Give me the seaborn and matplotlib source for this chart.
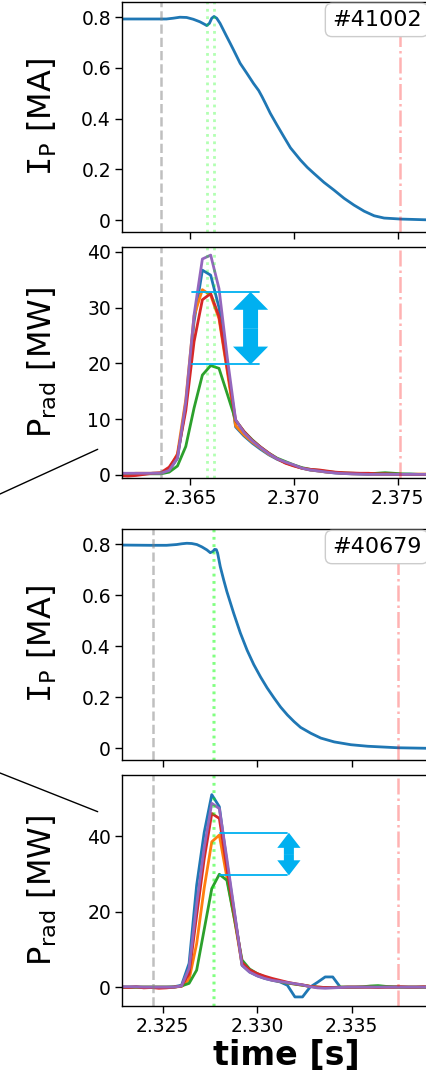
import numpy as np
import pandas as pd
import matplotlib
matplotlib.use('Agg')
import matplotlib.pyplot as plt
import seaborn as sns
from matplotlib.lines import Line2D
from matplotlib.ticker import FormatStrFormatter

# shot 41002 -------------------------------------------------------------
t_ip_41002 = [2.36171, 2.36306, 2.36387, 2.36419, 2.36452, 2.36484, 2.36516, 2.36548,
              2.36573, 2.36581, 2.36594, 2.36605, 2.36616, 2.36629, 2.36645, 2.36661,
              2.36677, 2.36694, 2.36710, 2.36742, 2.36774, 2.36806, 2.36831, 2.36847,
              2.36863, 2.36887, 2.36919, 2.36952, 2.36984, 2.37032, 2.37065, 2.37097,
              2.37145, 2.37194, 2.37242, 2.37290, 2.37339, 2.37387, 2.37435, 2.37516,
              2.37642, 2.37760]
ip_41002 = [0.793, 0.793, 0.793, 0.796, 0.800, 0.799, 0.792, 0.782,
            0.771, 0.767, 0.776, 0.796, 0.803, 0.796, 0.776, 0.750,
            0.724, 0.697, 0.671, 0.618, 0.579, 0.539, 0.511, 0.487,
            0.461, 0.421, 0.375, 0.329, 0.285, 0.237, 0.208, 0.184,
            0.149, 0.118, 0.086, 0.059, 0.035, 0.017, 0.008, 0.004,
            0.001, 0.0]

t_prad_41002 = np.round(2.3616 + 0.0004 * np.arange(41), 4)
prad_41002 = {
    'ch1': [0.2, 0.2, 0.2, 0.2, 0.3, 0.3, 0.8, 3.0, 12.5, 27.5, 36.7, 35.8, 30.0, 19.5, 8.6,
            7.0, 5.7, 4.6, 3.6, 2.8, 2.2, 1.7, 1.2, 0.85, 0.7, 0.5, 0.35, 0.25, 0.2, 0.15,
            0.1, 0.1, 0.1, 0.1, 0.1, 0.15, 0.1, 0.1, 0.15, 0.1, 0.1],
    'ch2': [0.2, 0.2, 0.3, 0.3, 0.3, 0.3, 1.0, 3.8, 13.5, 28.5, 33.2, 32.2, 28.0, 18.5, 8.8,
            7.2, 5.9, 4.8, 3.7, 2.9, 2.2, 1.7, 1.2, 0.9, 0.7, 0.5, 0.4, 0.3, 0.2, 0.2,
            0.15, 0.1, 0.1, 0.1, 0.1, 0.1, 0.15, 0.15, 0.2, 0.2, 0.2],
    'ch3': [0.2, 0.2, 0.2, 0.2, 0.2, 0.2, 0.5, 1.6, 5.1, 12.0, 17.9, 19.6, 19.1, 14.5, 9.8,
            7.8, 6.3, 5.0, 3.9, 3.0, 2.4, 1.8, 1.3, 1.0, 0.8, 0.6, 0.45, 0.35, 0.3, 0.25,
            0.2, 0.3, 0.4, 0.3, 0.2, 0.15, 0.1, 0.1, 0.1, 0.1, 0.1],
    'ch4': [-0.1, -0.2, -0.1, 0.1, 0.3, 0.4, 1.4, 3.6, 11.5, 23.9, 31.4, 32.5, 28.4, 19.0, 9.8,
            7.8, 6.2, 5.0, 3.9, 2.9, 2.1, 1.6, 1.2, 1.0, 0.9, 0.7, 0.5, 0.4, 0.35, 0.3,
            0.3, 0.2, 0.2, 0.15, 0.1, 0.1, 0.1, 0.1, 0.1, 0.1, 0.1],
    'ch5': [0.3, 0.3, 0.3, 0.3, 0.3, 0.3, 0.8, 3.0, 13.0, 28.7, 38.7, 39.4, 33.4, 21.0, 9.9,
            7.6, 6.1, 4.9, 3.8, 2.9, 2.3, 1.8, 1.2, 0.9, 0.7, 0.5, 0.35, 0.25, 0.2, 0.15,
            0.1, 0.1, 0.1, 0.1, 0.1, 0.1, 0.1, 0.1, 0.1, 0.1, 0.1],
}
events_41002 = {'start': [2.36360], 'peak': [2.36580, 2.36616], 'end': [2.37511]}
span_41002 = [19.8, 32.8]          # lower / upper Prad level of the spread
span_t_41002 = [2.36508, 2.36831]  # extent of the two level lines
arrow_t_41002 = 2.36792

# shot 40679 -------------------------------------------------------------
t_ip_40679 = [2.32284, 2.32433, 2.32521, 2.32574, 2.32601, 2.32628, 2.32654, 2.32681,
              2.32707, 2.32734, 2.32752, 2.32766, 2.32775, 2.32784, 2.32791, 2.32805,
              2.32823, 2.32840, 2.32876, 2.32911, 2.32947, 2.32982, 2.33018, 2.33053,
              2.33089, 2.33124, 2.33160, 2.33195, 2.33230, 2.33284, 2.33337, 2.33408,
              2.33496, 2.33585, 2.33745, 2.33901, 2.34030]
ip_40679 = [0.797, 0.796, 0.796, 0.799, 0.802, 0.804, 0.803, 0.799,
            0.790, 0.778, 0.767, 0.772, 0.780, 0.779, 0.765, 0.712,
            0.660, 0.614, 0.529, 0.452, 0.384, 0.328, 0.279, 0.236,
            0.197, 0.161, 0.130, 0.104, 0.081, 0.058, 0.039, 0.024,
            0.013, 0.007, 0.001, -0.001, -0.001]

t_prad_40679 = np.round(2.3228 + 0.0004 * np.arange(45), 4)
prad_40679 = {
    'ch1': [0.0, 0.0, 0.0, 0.0, 0.0, 0.0, 0.0, 0.1, 0.5, 6.3, 27.0, 41.0, 51.0, 47.8, 33.0,
            19.5, 5.8, 4.0, 3.0, 2.3, 1.8, 1.4, 0.5, -2.6, -2.6, 0.0, 1.3, 2.7, 2.7, 0.0,
            0.0, 0.0, 0.0, 0.0, 0.0, 0.0, 0.0, 0.0, 0.0, 0.0, 0.0, 0.0, 0.0, 0.0, 0.0],
    'ch2': [0.0, 0.0, 0.0, 0.0, 0.0, 0.0, 0.0, 0.0, 0.2, 2.0, 11.5, 26.3, 38.5, 40.3, 29.0,
            18.0, 6.0, 4.3, 3.2, 2.5, 1.9, 1.5, 1.1, 0.8, 0.5, 0.2, 0.0, -0.1, -0.1, 0.0,
            0.0, 0.0, 0.0, 0.0, 0.0, 0.0, 0.0, 0.0, 0.0, 0.0, 0.0, 0.0, 0.0, 0.0, 0.0],
    'ch3': [0.0, 0.0, 0.0, 0.0, 0.0, 0.0, 0.0, 0.0, 0.3, 1.0, 4.5, 15.3, 26.1, 29.9, 28.3,
            18.0, 7.2, 4.8, 3.6, 2.7, 2.0, 1.5, 1.1, 0.8, 0.5, 0.2, 0.0, -0.1, -0.1, 0.0,
            0.0, 0.0, 0.1, 0.3, 0.4, 0.2, 0.1, 0.0, 0.0, 0.0, 0.0, 0.0, 0.0, 0.0, 0.0],
    'ch4': [0.0, -0.1, 0.1, -0.2, -0.1, -0.3, -0.2, 0.0, 0.3, 3.5, 19.0, 34.0, 46.0, 44.7, 31.5,
            19.0, 6.5, 4.6, 3.6, 2.9, 2.3, 1.8, 1.3, 0.9, 0.6, 0.2, 0.0, -0.1, -0.1, -0.1,
            0.0, 0.0, 0.0, 0.0, -0.1, 0.0, 0.0, 0.1, 0.0, 0.0, 0.1, 0.0, 0.0, 0.1, 0.0],
    'ch5': [0.1, 0.1, 0.1, 0.0, 0.0, 0.0, 0.0, 0.0, 0.3, 5.0, 22.0, 37.0, 48.7, 47.3, 34.0,
            20.0, 5.8, 4.0, 3.0, 2.3, 1.8, 1.5, 1.2, 0.9, 0.6, 0.1, -0.2, -0.3, -0.2, -0.1,
            0.0, 0.0, 0.0, 0.0, 0.0, 0.0, 0.0, 0.0, 0.0, 0.0, 0.0, 0.0, 0.0, 0.0, 0.0],
}
events_40679 = {'start': [2.32447], 'peak': [2.32766, 2.32772], 'end': [2.33745]}
span_40679 = [29.6, 40.9]
span_t_40679 = [2.32803, 2.33159]
arrow_t_40679 = 2.33168

sns.set_style('ticks')
plt.rcParams['font.family'] = ['DejaVu Sans']
plt.rcParams['axes.edgecolor'] = 'black'
plt.rcParams['axes.linewidth'] = 1.0
for key in ('text.color', 'axes.labelcolor', 'xtick.color', 'ytick.color'):
    plt.rcParams[key] = 'black'

W, H = 426, 1082
fig = plt.figure(figsize=(W / 100, H / 100), dpi=100)
XR = 450  # right edge of the axes (outside the visible picture)


def make_ax(top, bottom):
    return fig.add_axes([122 / W, 1 - bottom / H, (XR - 122) / W, (bottom - top) / H])


ax1 = make_ax(2, 232)
ax2 = make_ax(247, 478)
ax3 = make_ax(529, 760)
ax4 = make_ax(775, 1006)

blue = '#00b0f0'


def mark_events(ax, ev):
    for x in ev['start']:
        ax.axvline(x, color='gray', alpha=0.5, ls='--', lw=1.8)
    for x in ev['peak']:
        ax.axvline(x, color='lime', alpha=0.3, ls=':', lw=2)
    for x in ev['end']:
        ax.axvline(x, color='red', alpha=0.3, ls='-.', lw=1.8)


def ip_panel(ax, t, ip, shot, xlim, xticks, ev):
    sns.lineplot(x=t, y=ip, ax=ax, color='#1f77b4', lw=2, estimator=None, sort=False)
    mark_events(ax, ev)
    ax.set_xlim(xlim)
    ax.set_ylim(-0.047, 0.86)
    ax.set_xticks(xticks)
    ax.set_xticklabels([])
    ax.set_yticks([0, 0.2, 0.4, 0.6, 0.8])
    ax.yaxis.set_major_formatter(FormatStrFormatter('%g'))
    ax.set_ylabel(r'$\mathtt{I}_\mathrm{P}$ [MA]', fontsize=23)
    ax.text((332 - 122) / (XR - 122), 0.922, shot, transform=ax.transAxes, fontsize=16,
            ha='left', va='center',
            bbox=dict(boxstyle='round,pad=0.3', fc='white', ec='0.8', lw=1))


def prad_panel(ax, t, prad, xlim, xticks, ylim, yticks, ev, span, span_t, arrow_t, aw):
    df = pd.DataFrame(prad, index=t).rename_axis('t').reset_index()
    df = df.melt(id_vars='t', var_name='channel', value_name='P')
    sns.lineplot(data=df, x='t', y='P', hue='channel', palette=sns.color_palette('tab10', 5),
                 lw=2, legend=False, estimator=None, sort=False, ax=ax)
    mark_events(ax, ev)
    for lev in span:
        ax.plot(span_t, [lev, lev], color=blue, lw=1.3)
    mid = (span[0] + span[1]) / 2
    half = (span[1] - span[0]) / 2
    for sgn in (1, -1):
        ax.arrow(arrow_t, mid, 0, sgn * half, width=aw[0], head_width=aw[1], head_length=aw[2],
                 length_includes_head=True, color=blue, lw=0)
    ax.set_xlim(xlim)
    ax.set_ylim(ylim)
    ax.set_xticks(xticks)
    ax.xaxis.set_major_formatter(FormatStrFormatter('%.3f'))
    ax.set_yticks(yticks)
    ax.set_ylabel(r'$\mathrm{P}_\mathrm{rad}$ [MW]', fontsize=23)
    ax.set_xlabel('')


xlim_a = (2.36173, 2.36173 + (XR - 122) / 20770)
xlim_b = (2.32285, 2.32285 + (XR - 122) / 18900)

ip_panel(ax1, t_ip_41002, ip_41002, '#41002', xlim_a, [2.365, 2.370, 2.375], events_41002)
prad_panel(ax2, t_prad_41002, prad_41002, xlim_a, [2.365, 2.370, 2.375], (-0.55, 40.85),
           [0, 10, 20, 30, 40], events_41002, span_41002, span_t_41002, arrow_t_41002,
           (0.00072, 0.00169, 3.2))
ip_panel(ax3, t_ip_40679, ip_40679, '#40679', xlim_b, [2.325, 2.330, 2.335], events_40679)
prad_panel(ax4, t_prad_40679, prad_40679, xlim_b, [2.325, 2.330, 2.335], (-5.0, 56.2),
           [0, 20, 40], events_40679, span_40679, span_t_40679, arrow_t_40679,
           (0.00053, 0.00123, 4.0))

ax4.set_xlabel('time [s]', fontsize=24, fontweight='bold', labelpad=2)

for ax in (ax1, ax2, ax3, ax4):
    ax.tick_params(labelsize=13.5, length=5, width=1, pad=3, color='black')
    ax.yaxis.set_label_coords((59 - 122) / (XR - 122), 0.5)
    sns.despine(ax=ax, top=False, right=False)

# zoom connector lines coming from the (cropped) overview panel
fig.add_artist(Line2D([0, 97.7 / W], [1 - 494 / H, 1 - 449.3 / H], transform=fig.transFigure,
                      color='black', lw=1))
fig.add_artist(Line2D([0, 97.7 / W], [1 - 773 / H, 1 - 811.7 / H], transform=fig.transFigure,
                      color='black', lw=1))

fig.savefig('out.png', dpi=100)
